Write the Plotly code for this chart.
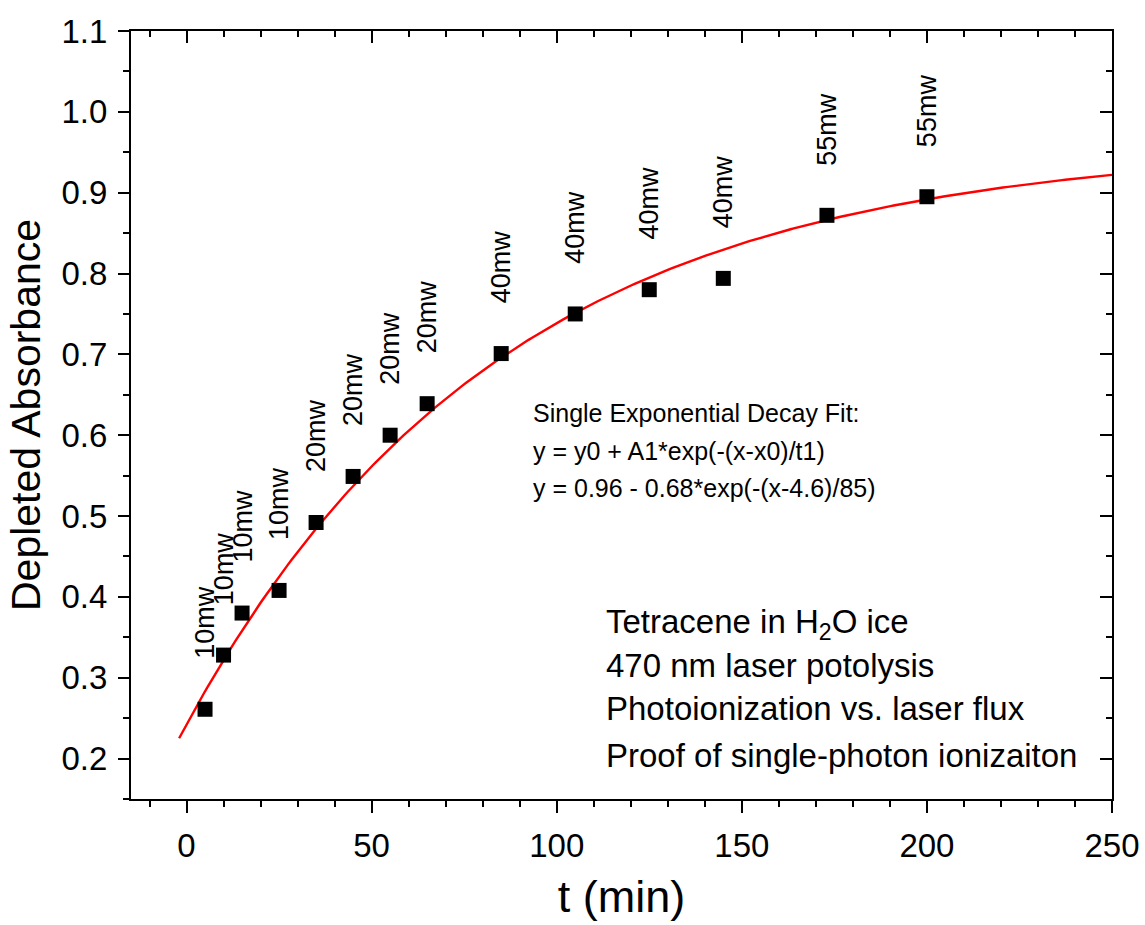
import numpy as np
import plotly.graph_objects as go

# Measured depletion vs. irradiation time
t_min = [5, 10, 15, 25, 35, 45, 55, 65, 85, 105, 125, 145, 173, 200]
absorbance = [0.261, 0.328, 0.380, 0.408, 0.492, 0.549, 0.600, 0.639,
              0.701, 0.750, 0.780, 0.794, 0.872, 0.895]
power_labels = ["10mw", "10mw", "10mw", "10mw", "20mw", "20mw", "20mw", "20mw",
                "40mw", "40mw", "40mw", "40mw", "55mw", "55mw"]

# Single exponential fit parameters
y0, A1, x0, t1 = 0.96, -0.68, 4.6, 85.0
fit_x = np.linspace(-2, 250, 300)
fit_y = y0 + A1 * np.exp(-(fit_x - x0) / t1)

fit_text = ["Single Exponential Decay Fit:",
            "y = y0 + A1*exp(-(x-x0)/t1)",
            "y = 0.96 - 0.68*exp(-(x-4.6)/85)"]
fit_text_y = [0.627, 0.580, 0.535]

info_text = ["Tetracene in H<sub>2</sub>O ice",
             "470 nm laser potolysis",
             "Photoionization vs. laser flux",
             "Proof of single-photon ionizaiton"]
info_text_y = [0.366, 0.315, 0.262, 0.204]

FONT = "Arial, Liberation Sans, sans-serif"
x_range = [-15, 250]
y_range = [0.15, 1.1]

fig = go.Figure()
fig.add_trace(go.Scatter(x=fit_x, y=fit_y, mode="lines",
                         line=dict(color="#ff0000", width=2.4),
                         hoverinfo="skip", showlegend=False))
fig.add_trace(go.Scatter(x=t_min, y=absorbance, mode="markers",
                         marker=dict(symbol="square", size=15, color="black"),
                         showlegend=False))
# helper trace so the top/right tick axes are rendered
fig.add_trace(go.Scatter(x=[None], y=[None], xaxis="x2", yaxis="y2",
                         showlegend=False, hoverinfo="skip"))

annotations = []
for xv, yv, lab in zip(t_min, absorbance, power_labels):
    annotations.append(dict(x=xv, y=yv, xref="x", yref="y", text=lab,
                            textangle=-90, showarrow=False,
                            xanchor="center", yanchor="bottom", yshift=48,
                            font=dict(family=FONT, size=27, color="black")))
for txt, yv in zip(fit_text, fit_text_y):
    annotations.append(dict(x=93, y=yv, xref="x", yref="y", text=txt,
                            showarrow=False, xanchor="left", yanchor="middle",
                            font=dict(family=FONT, size=25, color="black")))
for txt, yv in zip(info_text, info_text_y):
    annotations.append(dict(x=112.7, y=yv, xref="x", yref="y", text=txt,
                            showarrow=False, xanchor="left", yanchor="middle",
                            font=dict(family=FONT, size=33, color="black")))

axis_font = dict(family=FONT, size=33, color="black")

fig.update_layout(
    width=1145, height=925,
    margin=dict(l=131, r=33, t=31, b=126, autoexpand=False),
    paper_bgcolor="white", plot_bgcolor="white",
    font=dict(family=FONT, color="black"),
    annotations=annotations,
    xaxis=dict(range=x_range, showgrid=False, zeroline=False, automargin=False,
               showline=True, linecolor="black", linewidth=2, mirror=True,
               ticks="outside", ticklen=12, tickwidth=2, tickcolor="black",
               tickmode="linear", tick0=0, dtick=50,
               minor=dict(ticks="outside", ticklen=6, tickwidth=2,
                          tickcolor="black", dtick=10, showgrid=False),
               tickfont=axis_font, ticklabelstandoff=4,
               title=dict(text="t (min)", standoff=18,
                          font=dict(family=FONT, size=45, color="black"))),
    yaxis=dict(range=y_range, showgrid=False, zeroline=False, automargin=False,
               showline=True, linecolor="black", linewidth=2, mirror=True,
               ticks="outside", ticklen=11, tickwidth=2, tickcolor="black",
               tickmode="linear", tick0=0.2, dtick=0.1, tickformat=".1f",
               minor=dict(ticks="outside", ticklen=6, tickwidth=2,
                          tickcolor="black", dtick=0.05, showgrid=False),
               tickfont=axis_font, ticklabelstandoff=4,
               title=dict(text="Depleted Absorbance", standoff=8,
                          font=dict(family=FONT, size=41, color="black"))),
    xaxis2=dict(range=x_range, overlaying="x", side="top", showgrid=False,
                zeroline=False, showline=False, showticklabels=False,
                automargin=False,
                ticks="inside", ticklen=12, tickwidth=2, tickcolor="black",
                tickmode="linear", tick0=0, dtick=50,
                minor=dict(ticks="inside", ticklen=6, tickwidth=2,
                           tickcolor="black", dtick=10, showgrid=False)),
    yaxis2=dict(range=y_range, overlaying="y", side="right", showgrid=False,
                zeroline=False, showline=False, showticklabels=False,
                automargin=False,
                ticks="inside", ticklen=12, tickwidth=2, tickcolor="black",
                tickmode="linear", tick0=0.2, dtick=0.1,
                minor=dict(ticks="inside", ticklen=6, tickwidth=2,
                           tickcolor="black", dtick=0.05, showgrid=False)),
)

fig.write_html("out.html")
